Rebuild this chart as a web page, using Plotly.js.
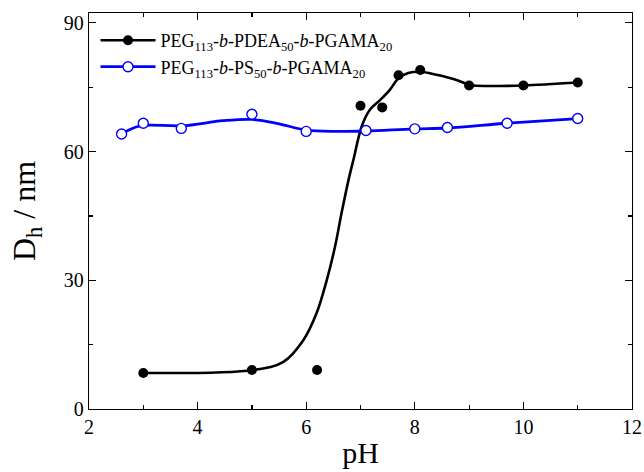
<!DOCTYPE html>
<html>
<head>
<meta charset="utf-8">
<script src="https://cdn.plot.ly/plotly-3.0.1.min.js"></script>
<style>
html,body{margin:0;padding:0;background:#fff;}
#chart{width:644px;height:472px;}
</style>
</head>
<body>
<div id="chart"></div>
<script>
// Measured points: PEG113-b-PDEA50-b-PGAMA20
var phPDEA = [3.0, 5.0, 6.2, 7.0, 7.4, 7.7, 8.1, 9.0, 10.0, 11.0];
var dhPDEA = [8.4, 9.1, 9.1, 70.7, 70.3, 77.8, 79.0, 75.4, 75.4, 76.1];
// Smoothed curve (PDEA)
var fitPDEAx = [3.0, 5.03, 5.58, 5.95, 6.19, 6.38, 6.53, 6.65, 6.78, 6.87, 7.02, 7.17, 7.36, 7.54, 7.70, 7.88, 8.10, 8.40, 8.77, 9.02, 9.44, 10.0, 11.0];
var fitPDEAy = [8.4, 9.1, 11.0, 16.1, 22.3, 30.1, 37.8, 45.6, 53.4, 58.1, 65.8, 69.7, 72.0, 74.4, 77.1, 78.3, 78.6, 77.9, 76.7, 75.5, 75.3, 75.4, 76.1];

// Measured points: PEG113-b-PS50-b-PGAMA20
var phPS = [2.6, 3.0, 3.7, 5.0, 6.0, 7.1, 8.0, 8.6, 9.7, 11.0];
var dhPS = [64.1, 66.6, 65.4, 68.7, 64.7, 64.9, 65.3, 65.6, 66.6, 67.7];
// Smoothed curve (PS)
var fitPSx = [2.6, 2.94, 3.71, 4.47, 5.0, 5.46, 6.0, 6.56, 7.1, 8.0, 8.6, 9.7, 11.0];
var fitPSy = [64.1, 66.0, 66.0, 67.2, 67.5, 66.6, 65.0, 64.7, 64.8, 65.3, 65.5, 66.6, 67.7];

var names = [
  'PEG<sub>113</sub>-<i>b</i>-PDEA<sub>50</sub>-<i>b</i>-PGAMA<sub>20</sub>',
  'PEG<sub>113</sub>-<i>b</i>-PS<sub>50</sub>-<i>b</i>-PGAMA<sub>20</sub>'
];

// interleave nulls so the marker trace draws no connecting line but keeps a line in the legend
function gap(a){ var r=[]; a.forEach(function(v,i){ if(i) r.push(null); r.push(v); }); return r; }

var serif = 'Liberation Serif, Times New Roman, serif';

var traces = [
  {x: fitPDEAx, y: fitPDEAy, mode: 'lines', line: {color: '#000', width: 2.6, shape: 'spline', smoothing: 1}, showlegend: false, hoverinfo: 'skip'},
  {x: gap(phPDEA), y: gap(dhPDEA), mode: 'lines+markers', connectgaps: false, name: names[0],
   line: {color: '#000', width: 2.6}, marker: {symbol: 'circle', size: 10, color: '#000'}},
  {x: fitPSx, y: fitPSy, mode: 'lines', line: {color: '#0000ff', width: 2.8, shape: 'spline', smoothing: 1}, showlegend: false, hoverinfo: 'skip'},
  {x: gap(phPS), y: gap(dhPS), mode: 'lines+markers', connectgaps: false, name: names[1],
   line: {color: '#0000ff', width: 2.8}, marker: {symbol: 'circle', size: 10, color: '#fff', line: {color: '#0000ff', width: 1.4}}}
];

var axisCommon = {
  showgrid: false, zeroline: false, showline: true, linecolor: '#000', linewidth: 1.3,
  mirror: 'allticks', ticks: 'inside', ticklen: 7, tickwidth: 1.2, tickcolor: '#000',
  tickfont: {family: serif, size: 20, color: '#000'}
};

var layout = {
  width: 644, height: 472,
  margin: {l: 89, r: 12, t: 13, b: 63},
  paper_bgcolor: '#fff', plot_bgcolor: '#fff',
  font: {family: serif, color: '#000'},
  xaxis: Object.assign({}, axisCommon, {
    range: [2, 12], tickvals: [2, 4, 6, 8, 10, 12],
    minor: {tickvals: [3, 5, 7, 9, 11], ticks: 'inside', ticklen: 4, tickwidth: 1.2, tickcolor: '#000'},
    title: {text: 'pH', font: {family: serif, size: 30, color: '#000'}, standoff: 4}
  }),
  yaxis: Object.assign({}, axisCommon, {
    range: [0, 92.3], tickvals: [0, 30, 60, 90],
    minor: {tickvals: [15, 45, 75], ticks: 'inside', ticklen: 4, tickwidth: 1.2, tickcolor: '#000'},
    title: {text: 'D<sub>h</sub> / nm', font: {family: serif, size: 32, color: '#000'}, standoff: 18}
  }),
  legend: {
    x: 0.012, y: 0.977, xanchor: 'left', yanchor: 'top',
    bgcolor: 'rgba(0,0,0,0)', borderwidth: 0,
    font: {family: serif, size: 18, color: '#000'},
    itemwidth: 55, tracegroupgap: 4
  },
  showlegend: true
};

Plotly.newPlot('chart', traces, layout, {displayModeBar: false, staticPlot: true});
</script>
</body>
</html>
